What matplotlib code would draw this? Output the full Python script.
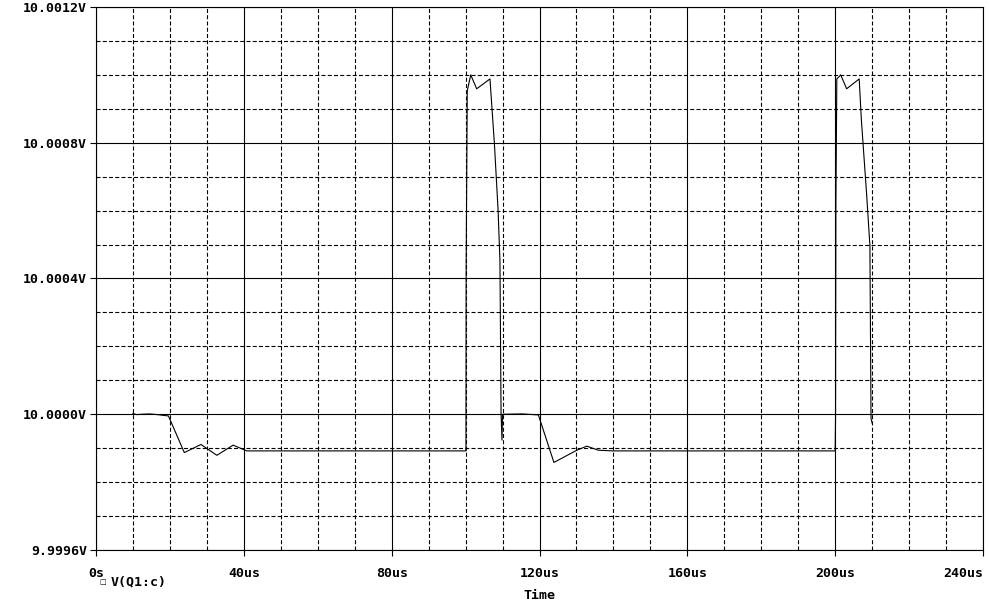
import matplotlib
matplotlib.use("Agg")
import matplotlib.pyplot as plt
from matplotlib.ticker import MultipleLocator, FuncFormatter

# trace read from the probe window: time in us, offset from 10 V in uV
time_us = [10.0, 11.0, 12.5, 14.5, 16.5, 19.6, 23.9, 28.4, 32.7, 37.1, 40.8,
           100.1, 100.15, 100.45, 101.4, 103.0, 106.6, 107.8, 108.8, 109.3,
           109.6, 109.85, 110.0, 115.4, 119.7, 123.9, 130.1, 132.8, 135.9,
           140.0, 200.0, 200.1, 200.2, 200.45, 201.5, 203.1, 206.5, 207.1,
           208.5, 209.4, 209.7, 210.0]
offset_uv = [2, -1, 0, 1, -1, -5, -113, -89, -121, -91, -108,
             -108, 424, 953, 1000, 959, 988, 797, 600, 450,
             3, -76, 0, 1, -2, -142, -106, -94, -106,
             -108, -108, -12, 625, 988, 1000, 959, 988, 866,
             650, 497, -12, -26]
volts = [10 + d * 1e-6 for d in offset_uv]

plt.rcParams['lines.scale_dashes'] = False
font = dict(family=['DejaVu Sans Mono', 'DejaVu Sans'], weight='bold', size=9.5)

fig = plt.figure(figsize=(9.89, 6.04), dpi=100)
W, H = 989, 604
ax = fig.add_axes([96 / W, 1 - 550 / H, (983 - 96) / W, (550 - 7) / H])

ax.plot(time_us, volts, color='black', lw=0.8)

ax.set_xlim(0, 240)
ax.set_ylim(9.9996, 10.0012)
ax.xaxis.set_major_locator(MultipleLocator(40))
ax.xaxis.set_minor_locator(MultipleLocator(10))
ax.yaxis.set_major_locator(MultipleLocator(0.0004))
ax.yaxis.set_minor_locator(MultipleLocator(0.0001))
ax.xaxis.set_major_formatter(FuncFormatter(lambda v, p: "0s" if v == 0 else f"{v:.0f}us"))
ax.yaxis.set_major_formatter(FuncFormatter(lambda v, p: f"{v:.4f}V"))

ax.grid(which='major', color='black', lw=0.8, ls='-')
ax.grid(which='minor', color='black', lw=0.8, ls=(0, (2.9, 1.6)))
ax.set_axisbelow(True)
for s in ax.spines.values():
    s.set_color('black')
    s.set_linewidth(0.8)

ax.tick_params(which='major', length=4.3, width=0.8, color='black', pad=2)
ax.tick_params(axis='x', which='major', pad=8)
ax.tick_params(which='minor', length=0)

fig.canvas.draw()
xlabels = ax.get_xticklabels()
for lbl in xlabels + ax.get_yticklabels():
    lbl.set_fontfamily(font['family'])
    lbl.set_fontweight('bold')
    lbl.set_fontsize(font['size'])
# the last time label sits inside the frame, right-aligned to its tick
for lbl in xlabels:
    if lbl.get_text() == "240us":
        lbl.set_horizontalalignment('right')

fig.text(99 / W, 1 - 582 / H, "\u25a1", va='center', ha='left',
         family=['DejaVu Sans', 'DejaVu Sans Mono'], size=5)
fig.text(111 / W, 1 - 582 / H, "V(Q1:c)", va='center', ha='left', **font)
fig.text(539 / W, 1 - 595.5 / H, "Time", va='center', ha='center', **font)

fig.savefig("out.png", dpi=100)
